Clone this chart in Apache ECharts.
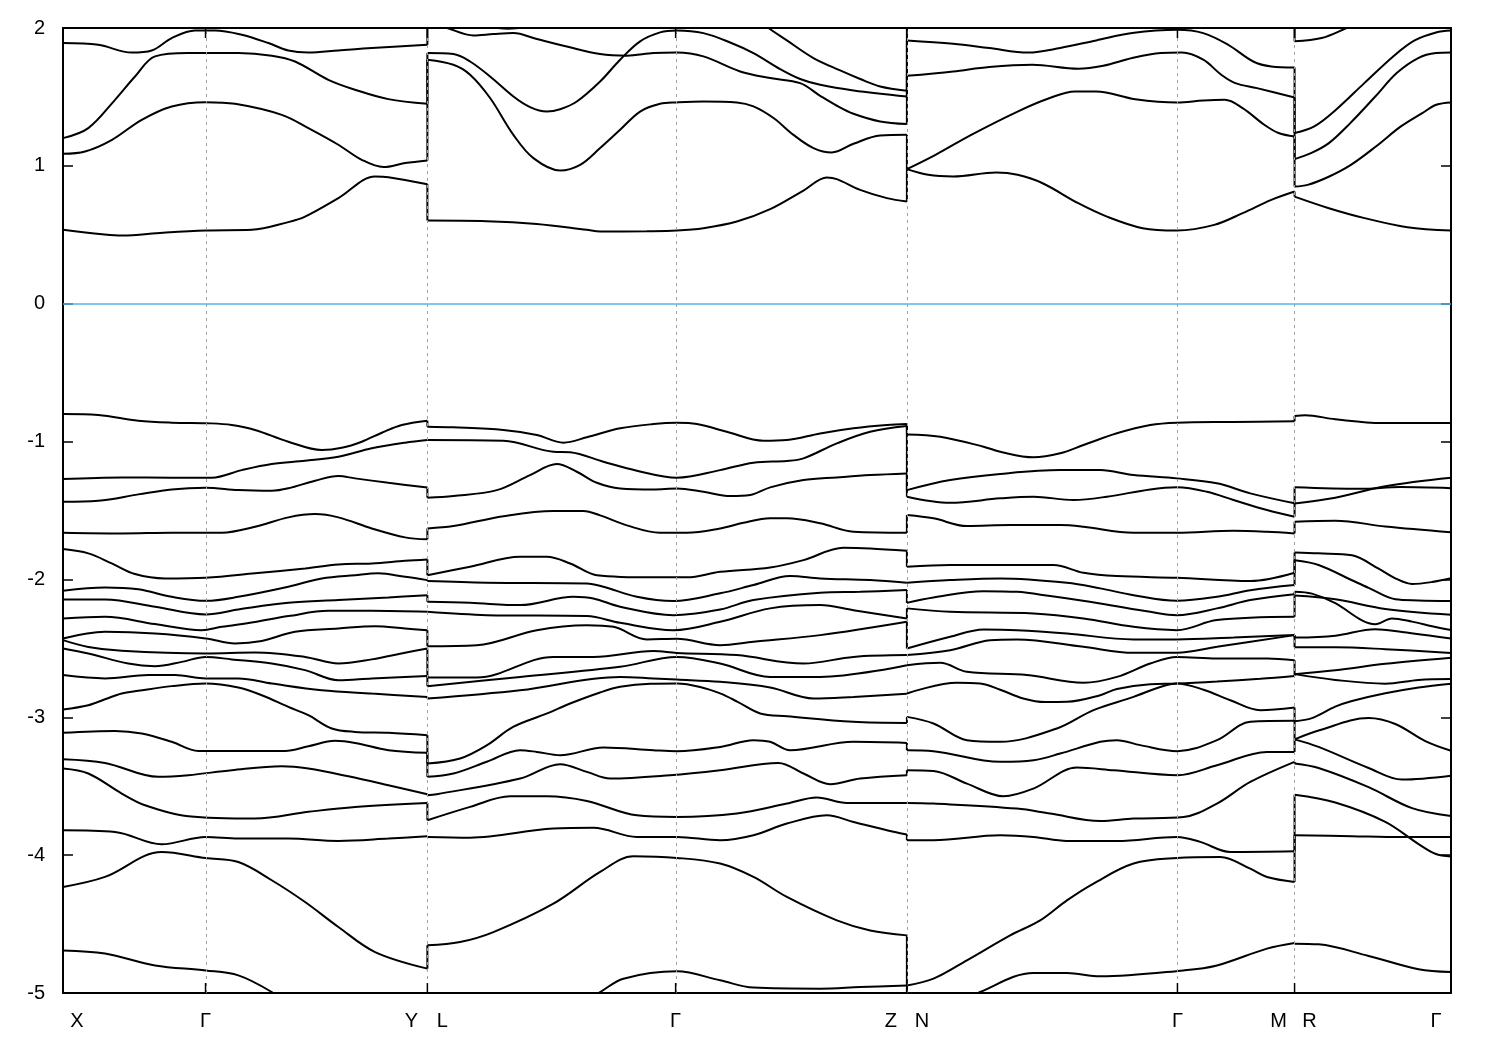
<!DOCTYPE html>
<html><head><meta charset="utf-8">
<script src="https://cdn.jsdelivr.net/npm/echarts@6/dist/echarts.min.js"></script>
<style>html,body{margin:0;padding:0;background:#fff}#c{width:1500px;height:1050px}</style>
</head><body><div id="c"></div>
<script>
// k-path positions of the high-symmetry points (arbitrary units)
const kTicks = [0, 1.425, 3.643, 6.125, 8.437, 11.142, 12.313, 13.877];
const tickLabels = [['X'], ['Γ'], ['Y', 'L'], ['Γ'], ['Z', 'N'], ['Γ'], ['M', 'R'], ['Γ']];
const yTicks = [2, 1, 0, -1, -2, -3, -4, -5];

// ---------- Segment 1 : X - Γ - Y ----------
const seg1Cond = [
  [[0,.536],[.39,.504],[.587,.494],[1.0,.515],[1.427,.531],[1.887,.536],[2.253,.592],[2.42,.632],[2.753,.766],[3.12,.923],[3.253,.918],[3.643,.867]],
  [[0,1.087],[.22,1.104],[.49,1.189],[.787,1.334],[1.087,1.431],[1.427,1.462],[1.72,1.45],[2.187,1.37],[2.453,1.274],[2.753,1.153],[2.987,1.044],[3.203,.991],[3.42,1.02],[3.643,1.039]],
  [[0,1.201],[.253,1.274],[.52,1.479],[.72,1.648],[.92,1.794],[1.253,1.818],[1.753,1.818],[2.087,1.799],[2.32,1.757],[2.653,1.624],[2.92,1.552],[3.253,1.484],[3.643,1.45]],
  [[0,1.891],[.353,1.878],[.687,1.822],[.887,1.837],[1.087,1.927],[1.32,1.982],[1.52,1.982],[1.787,1.951],[2.053,1.891],[2.253,1.837],[2.453,1.822],[2.753,1.837],[3.087,1.855],[3.643,1.878]]
];
const seg1Val = [
  [[0,-.80],[.353,-.807],[.753,-.849],[1.087,-.863],[1.487,-.868],[1.687,-.88],[1.92,-.916],[2.253,-1.001],[2.587,-1.061],[2.787,-1.045],[2.987,-1.001],[3.187,-.936],[3.387,-.88],[3.643,-.849]],
  [[0,-1.272],[.587,-1.26],[1.087,-1.262],[1.487,-1.262],[1.787,-1.207],[2.087,-1.163],[2.42,-1.139],[2.753,-1.11],[3.087,-1.049],[3.42,-1.008],[3.643,-.989]],
  [[0,-1.436],[.353,-1.429],[.753,-1.383],[1.087,-1.347],[1.427,-1.335],[1.753,-1.352],[2.087,-1.357],[2.253,-1.339],[2.52,-1.284],[2.753,-1.25],[2.92,-1.267],[3.253,-1.299],[3.643,-1.333]],
  [[0,-1.661],[.587,-1.666],[1.087,-1.661],[1.587,-1.661],[1.92,-1.618],[2.253,-1.55],[2.52,-1.526],[2.753,-1.55],[3.087,-1.63],[3.42,-1.695],[3.643,-1.709]],
  [[0,-1.78],[.253,-1.811],[.487,-1.884],[.72,-1.961],[1.02,-1.993],[1.427,-1.988],[1.92,-1.956],[2.42,-1.92],[2.753,-1.891],[3.087,-1.884],[3.42,-1.865],[3.643,-1.855]],
  [[0,-2.082],[.42,-2.058],[.753,-2.072],[1.087,-2.126],[1.427,-2.155],[1.753,-2.126],[2.253,-2.053],[2.587,-1.993],[2.92,-1.969],[3.153,-1.956],[3.42,-1.981],[3.643,-2.005]],
  [[0,-2.145],[.42,-2.145],[.92,-2.198],[1.427,-2.254],[1.753,-2.218],[2.253,-2.17],[2.753,-2.15],[3.253,-2.131],[3.643,-2.114]],
  [[0,-2.283],[.42,-2.271],[.92,-2.324],[1.387,-2.368],[1.587,-2.344],[1.92,-2.308],[2.253,-2.266],[2.653,-2.228],[3.087,-2.228],[3.643,-2.235]],
  [[0,-2.428],[.42,-2.38],[.92,-2.392],[1.427,-2.428],[1.72,-2.464],[1.987,-2.446],[2.32,-2.38],[2.753,-2.356],[3.12,-2.339],[3.42,-2.356],[3.643,-2.368]],
  [[0,-2.44],[.253,-2.49],[.587,-2.518],[1.427,-2.537],[1.92,-2.53],[2.42,-2.562],[2.753,-2.61],[3.087,-2.58],[3.42,-2.532],[3.643,-2.501]],
  [[0,-2.501],[.253,-2.537],[.653,-2.61],[.92,-2.629],[1.187,-2.598],[1.427,-2.562],[1.687,-2.58],[2.087,-2.61],[2.42,-2.658],[2.753,-2.731],[3.087,-2.718],[3.643,-2.701]],
  [[0,-2.694],[.42,-2.718],[.853,-2.694],[1.12,-2.694],[1.427,-2.718],[1.753,-2.718],[2.087,-2.755],[2.587,-2.804],[3.087,-2.828],[3.643,-2.852]],
  [[0,-2.943],[.253,-2.912],[.42,-2.869],[.587,-2.827],[.753,-2.808],[1.087,-2.774],[1.427,-2.755],[1.753,-2.784],[1.987,-2.84],[2.253,-2.925],[2.453,-2.985],[2.687,-3.081],[2.92,-3.106],[3.253,-3.113],[3.643,-3.13]],
  [[0,-3.113],[.52,-3.099],[.787,-3.118],[1.087,-3.178],[1.353,-3.244],[2.22,-3.244],[2.453,-3.21],[2.72,-3.171],[2.92,-3.186],[3.253,-3.239],[3.643,-3.258]],
  [[0,-3.304],[.42,-3.331],[.953,-3.432],[1.253,-3.42],[1.687,-3.384],[2.187,-3.355],[2.453,-3.372],[2.853,-3.428],[3.253,-3.493],[3.643,-3.559]],
  [[0,-3.372],[.253,-3.408],[.587,-3.553],[.82,-3.638],[1.253,-3.718],[1.92,-3.735],[2.453,-3.686],[2.92,-3.65],[3.643,-3.621]],
  [[0,-3.82],[.52,-3.832],[.987,-3.921],[1.427,-3.868],[1.753,-3.88],[2.253,-3.88],[2.753,-3.897],[3.253,-3.88],[3.643,-3.863]],
  [[0,-4.231],[.42,-4.158],[.987,-3.977],[1.427,-4.021],[1.753,-4.05],[2.087,-4.182],[2.42,-4.34],[2.753,-4.521],[3.12,-4.703],[3.643,-4.823]],
  [[0,-4.691],[.42,-4.714],[.92,-4.8],[1.427,-4.836],[1.753,-4.872],[2.087,-4.993],[2.4,-5.15],[3.643,-5.4]]
];

// ---------- Segment 2 : L - Γ - Z ----------
const seg2Cond = [
  [[3.643,.603],[4.237,.599],[4.737,.579],[5.237,.536],[5.37,.524],[5.837,.526],[6.137,.531],[6.403,.548],[6.737,.596],[7.07,.686],[7.403,.821],[7.637,.916],[7.737,.904],[7.97,.826],[8.237,.766],[8.437,.741]],
  [[3.643,1.77],[3.903,1.733],[4.07,1.661],[4.27,1.492],[4.503,1.225],[4.703,1.056],[4.97,.966],[5.17,1.007],[5.37,1.129],[5.57,1.262],[5.77,1.394],[5.97,1.45],[6.137,1.46],[6.403,1.467],[6.737,1.46],[6.903,1.431],[7.103,1.347],[7.303,1.225],[7.503,1.129],[7.687,1.097],[7.903,1.16],[8.17,1.22],[8.437,1.225]],
  [[3.643,1.818],[3.903,1.811],[4.07,1.757],[4.27,1.648],[4.503,1.503],[4.67,1.426],[4.837,1.394],[4.97,1.411],[5.137,1.467],[5.37,1.612],[5.57,1.77],[5.77,1.903],[5.97,1.968],[6.137,1.982],[6.403,1.963],[6.67,1.895],[6.903,1.818],[7.17,1.702],[7.37,1.63],[7.57,1.588],[7.903,1.547],[8.437,1.503]],
  [[3.643,2.04],[3.84,2.0],[4.103,1.946],[4.303,1.956],[4.503,1.963],[4.737,1.92],[5.037,1.866],[5.37,1.811],[5.637,1.799],[5.903,1.818],[6.137,1.822],[6.403,1.794],[6.77,1.685],[7.07,1.637],[7.37,1.60],[7.57,1.508],[7.737,1.436],[7.903,1.378],[8.17,1.322],[8.437,1.303]],
  [[3.643,2.5],[6.137,2.4],[6.6,2.2],[6.9,2.08],[7.037,2.007],[7.237,1.91],[7.503,1.782],[7.77,1.692],[7.97,1.63],[8.17,1.576],[8.437,1.545]],
  [[3.643,2.1],[4.1,2.03],[4.45,1.995],[4.8,2.05],[5.3,2.3],[8.437,2.7]]
];
const seg2Val = [
  [[3.643,-.892],[3.903,-.897],[4.403,-.916],[4.737,-.952],[5.003,-1.008],[5.237,-.969],[5.57,-.904],[5.903,-.873],[6.137,-.864],[6.337,-.873],[6.637,-.929],[7.003,-.994],[7.237,-.989],[7.57,-.941],[7.903,-.904],[8.237,-.88],[8.437,-.873]],
  [[3.643,-.989],[4.403,-.994],[4.903,-1.074],[5.07,-1.078],[5.403,-1.146],[5.737,-1.211],[6.137,-1.262],[6.57,-1.207],[6.903,-1.153],[7.237,-1.141],[7.403,-1.122],[7.737,-1.013],[8.07,-.929],[8.437,-.887]],
  [[3.643,-1.407],[3.903,-1.395],[4.337,-1.352],[4.67,-1.243],[4.937,-1.163],[5.137,-1.219],[5.337,-1.299],[5.57,-1.34],[5.903,-1.347],[6.137,-1.34],[6.403,-1.364],[6.67,-1.395],[6.87,-1.388],[7.07,-1.332],[7.403,-1.279],[7.737,-1.26],[8.07,-1.243],[8.437,-1.231]],
  [[3.643,-1.63],[3.903,-1.613],[4.403,-1.541],[4.903,-1.503],[5.203,-1.503],[5.37,-1.535],[5.637,-1.608],[5.97,-1.661],[6.237,-1.661],[6.57,-1.63],[6.803,-1.589],[7.07,-1.557],[7.237,-1.557],[7.57,-1.593],[7.903,-1.654],[8.437,-1.661]],
  [[3.643,-1.969],[4.07,-1.908],[4.57,-1.836],[4.837,-1.836],[5.07,-1.884],[5.337,-1.969],[5.903,-1.985],[6.237,-1.985],[6.57,-1.945],[7.07,-1.913],[7.403,-1.86],[7.803,-1.77],[8.07,-1.775],[8.437,-1.792]],
  [[3.643,-2.012],[4.237,-2.024],[5.237,-2.029],[5.403,-2.053],[5.737,-2.126],[6.103,-2.157],[6.57,-2.101],[6.903,-2.041],[7.27,-1.976],[7.57,-1.993],[8.07,-2.005],[8.437,-2.024]],
  [[3.643,-2.162],[4.07,-2.17],[4.57,-2.186],[5.103,-2.126],[5.303,-2.138],[5.57,-2.198],[6.103,-2.259],[6.57,-2.218],[6.903,-2.15],[7.57,-2.097],[7.97,-2.09],[8.437,-2.077]],
  [[3.643,-2.235],[4.237,-2.259],[5.237,-2.266],[5.57,-2.315],[6.103,-2.368],[6.57,-2.307],[7.07,-2.21],[7.57,-2.186],[7.903,-2.223],[8.437,-2.283]],
  [[3.643,-2.484],[4.137,-2.477],[4.737,-2.368],[5.237,-2.332],[5.503,-2.344],[5.837,-2.435],[6.137,-2.431],[6.57,-2.477],[6.903,-2.452],[7.57,-2.404],[8.437,-2.307]],
  [[3.643,-2.711],[4.137,-2.711],[4.903,-2.562],[5.303,-2.562],[5.903,-2.519],[6.137,-2.533],[6.737,-2.549],[7.403,-2.61],[7.903,-2.562],[8.437,-2.549]],
  [[3.643,-2.774],[4.57,-2.707],[5.57,-2.634],[6.137,-2.562],[6.57,-2.61],[7.07,-2.707],[7.57,-2.707],[8.437,-2.622]],
  [[3.643,-2.864],[4.57,-2.804],[5.57,-2.707],[5.903,-2.718],[6.137,-2.726],[6.57,-2.743],[7.07,-2.784],[7.503,-2.864],[7.903,-2.852],[8.437,-2.83]],
  [[3.643,-3.336],[3.97,-3.299],[4.24,-3.202],[4.5,-3.07],[4.84,-2.972],[5.07,-2.90],[5.37,-2.82],[5.57,-2.779],[5.87,-2.757],[6.14,-2.755],[6.37,-2.78],[6.57,-2.827],[6.74,-2.886],[6.97,-2.972],[7.24,-2.992],[7.9,-3.033],[8.437,-3.041]],
  [[3.643,-3.432],[3.903,-3.408],[4.237,-3.323],[4.57,-3.239],[4.737,-3.251],[4.97,-3.275],[5.403,-3.219],[5.903,-3.239],[6.137,-3.246],[6.57,-3.215],[6.903,-3.166],[7.07,-3.178],[7.27,-3.239],[7.903,-3.178],[8.437,-3.186]],
  [[3.643,-3.565],[3.737,-3.558],[4.57,-3.444],[4.97,-3.34],[5.237,-3.396],[5.47,-3.444],[6.07,-3.42],[6.57,-3.384],[7.153,-3.331],[7.403,-3.408],[7.67,-3.485],[7.97,-3.444],[8.437,-3.42]],
  [[3.643,-3.747],[4.07,-3.65],[4.47,-3.573],[4.837,-3.573],[5.237,-3.607],[5.737,-3.711],[6.137,-3.723],[6.737,-3.698],[7.237,-3.626],[7.537,-3.582],[7.837,-3.621],[8.437,-3.621]],
  [[3.643,-3.868],[4.07,-3.873],[4.903,-3.807],[5.303,-3.802],[5.737,-3.868],[6.137,-3.868],[6.57,-3.892],[6.903,-3.856],[7.237,-3.771],[7.637,-3.711],[7.903,-3.759],[8.303,-3.83],[8.437,-3.85]],
  [[3.643,-4.654],[3.97,-4.63],[4.303,-4.558],[4.903,-4.352],[5.37,-4.122],[5.703,-4.008],[6.137,-4.02],[6.57,-4.061],[6.903,-4.158],[7.237,-4.303],[7.737,-4.473],[8.07,-4.546],[8.437,-4.582]],
  [[3.643,-5.5],[4.6,-5.25],[5.1,-5.1],[5.37,-4.993],[5.603,-4.896],[6.137,-4.843],[6.57,-4.908],[6.903,-4.961],[7.57,-4.969],[7.97,-4.957],[8.437,-4.945]]
];

// ---------- Segment 3 : N - Γ - M ----------
const seg3Cond = [
  [[8.437,.976],[8.65,.935],[8.9,.923],[9.33,.952],[9.544,.935],[9.794,.874],[10.15,.729],[10.437,.632],[10.794,.548],[11.14,.531],[11.51,.572],[11.794,.657],[12.08,.753],[12.313,.814]],
  [[8.437,.976],[8.723,1.08],[9.08,1.225],[9.544,1.394],[9.866,1.492],[10.116,1.54],[10.33,1.54],[10.72,1.484],[11.14,1.46],[11.4,1.474],[11.616,1.479],[11.794,1.419],[12.01,1.298],[12.153,1.238],[12.313,1.213]],
  [[8.437,1.653],[8.9,1.685],[9.26,1.717],[9.69,1.733],[10.15,1.704],[10.4,1.726],[10.69,1.782],[10.976,1.818],[11.187,1.822],[11.4,1.77],[11.58,1.661],[11.72,1.60],[11.937,1.564],[12.313,1.496]],
  [[8.437,1.91],[8.9,1.886],[9.26,1.855],[9.65,1.822],[9.97,1.855],[10.33,1.91],[10.69,1.963],[11.14,1.987],[11.4,1.963],[11.65,1.878],[11.9,1.757],[12.08,1.721],[12.313,1.714]],
  [[8.437,2.2],[10.3,2.15],[12.313,2.1]]
];
const seg3Val = [
  [[8.437,-.948],[8.77,-.965],[9.203,-1.037],[9.37,-1.074],[9.703,-1.114],[9.97,-1.085],[10.203,-1.025],[10.537,-.94],[10.87,-.88],[11.137,-.863],[11.703,-.858],[12.313,-.853]],
  [[8.437,-1.352],[8.87,-1.279],[9.37,-1.235],[9.97,-1.207],[10.37,-1.207],[10.703,-1.243],[11.137,-1.267],[11.537,-1.303],[11.87,-1.376],[12.313,-1.448]],
  [[8.437,-1.40],[8.87,-1.444],[9.37,-1.412],[9.703,-1.40],[10.103,-1.424],[10.437,-1.40],[10.87,-1.347],[11.137,-1.332],[11.437,-1.364],[11.703,-1.424],[12.037,-1.497],[12.313,-1.545]],
  [[8.437,-1.533],[8.703,-1.557],[9.037,-1.613],[9.47,-1.606],[9.97,-1.606],[10.203,-1.618],[10.703,-1.661],[11.137,-1.661],[11.703,-1.647],[12.037,-1.654],[12.313,-1.666]],
  [[8.437,-1.908],[8.87,-1.896],[9.537,-1.896],[9.903,-1.896],[10.203,-1.952],[10.537,-1.976],[11.137,-1.988],[11.87,-2.012],[12.313,-1.952]],
  [[8.437,-2.024],[8.87,-2.005],[9.37,-1.993],[10.037,-2.024],[10.37,-2.065],[10.703,-2.114],[11.137,-2.155],[11.537,-2.126],[11.87,-2.078],[12.313,-2.041]],
  [[8.437,-2.17],[8.703,-2.131],[9.203,-2.085],[9.537,-2.09],[9.87,-2.121],[10.37,-2.174],[10.87,-2.235],[11.137,-2.259],[11.537,-2.21],[11.87,-2.15],[12.313,-2.107]],
  [[8.437,-2.21],[8.87,-2.235],[9.703,-2.247],[10.203,-2.283],[10.703,-2.344],[11.137,-2.368],[11.537,-2.295],[12.313,-2.271]],
  [[8.437,-2.501],[8.87,-2.416],[9.203,-2.363],[9.537,-2.368],[10.037,-2.392],[10.703,-2.435],[11.137,-2.435],[11.703,-2.421],[12.313,-2.404]],
  [[8.437,-2.549],[8.87,-2.513],[9.27,-2.441],[9.537,-2.435],[10.203,-2.489],[10.703,-2.532],[11.137,-2.532],[11.537,-2.489],[12.313,-2.404]],
  [[8.437,-2.622],[8.77,-2.605],[9.037,-2.67],[9.637,-2.694],[10.203,-2.75],[10.537,-2.707],[10.87,-2.61],[11.137,-2.562],[11.537,-2.573],[12.037,-2.573],[12.313,-2.586]],
  [[8.437,-2.827],[8.937,-2.75],[9.17,-2.755],[9.37,-2.80],[9.6,-2.864],[9.82,-2.89],[10.037,-2.888],[10.37,-2.84],[10.537,-2.795],[10.87,-2.76],[11.137,-2.755],[11.537,-2.74],[11.97,-2.72],[12.313,-2.70]],
  [[8.437,-2.997],[8.703,-3.045],[9.037,-3.166],[9.37,-3.178],[9.937,-3.081],[10.303,-2.948],[10.703,-2.852],[10.97,-2.78],[11.137,-2.755],[11.403,-2.80],[11.67,-2.876],[11.97,-2.949],[12.313,-2.929]],
  [[8.437,-3.239],[8.703,-3.246],[9.37,-3.323],[9.703,-3.312],[9.97,-3.263],[10.37,-3.178],[10.537,-3.166],[10.77,-3.202],[11.143,-3.246],[11.537,-3.166],[11.87,-3.033],[12.313,-3.026]],
  [[8.437,-3.384],[8.703,-3.389],[9.037,-3.481],[9.403,-3.573],[9.703,-3.517],[10.137,-3.365],[10.503,-3.384],[11.143,-3.42],[11.537,-3.348],[12.037,-3.251],[12.313,-3.251]],
  [[8.437,-3.621],[8.703,-3.626],[9.537,-3.662],[9.87,-3.698],[10.37,-3.752],[10.703,-3.735],[11.203,-3.723],[11.537,-3.626],[11.87,-3.469],[12.313,-3.323]],
  [[8.437,-3.892],[8.703,-3.892],[9.37,-3.856],[9.703,-3.868],[10.037,-3.897],[10.537,-3.897],[11.137,-3.868],[11.37,-3.904],[11.67,-3.977],[12.313,-3.972]],
  [[8.437,-4.945],[8.703,-4.896],[9.037,-4.763],[9.47,-4.582],[9.77,-4.473],[10.037,-4.328],[10.303,-4.206],[10.703,-4.061],[11.137,-4.021],[11.57,-4.013],[11.87,-4.098],[12.037,-4.158],[12.313,-4.194]],
  [[8.437,-5.25],[8.9,-5.1],[9.17,-4.993],[9.703,-4.855],[10.037,-4.855],[10.37,-4.879],[11.203,-4.836],[11.537,-4.80],[12.037,-4.678],[12.313,-4.637]]
];

// ---------- Segment 4 : R - Γ ----------
const seg4Cond = [
  [[12.313,.777],[12.656,.693],[13.013,.621],[13.44,.555],[13.877,.531]],
  [[12.313,.85],[12.444,.862],[12.66,.923],[12.876,1.007],[13.126,1.14],[13.376,1.286],[13.59,1.383],[13.73,1.443],[13.877,1.46]],
  [[12.313,1.049],[12.477,1.092],[12.656,1.165],[12.87,1.31],[13.12,1.503],[13.334,1.673],[13.549,1.782],[13.727,1.818],[13.877,1.822]],
  [[12.313,1.238],[12.51,1.286],[12.727,1.407],[13.01,1.60],[13.299,1.794],[13.513,1.91],[13.727,1.968],[13.877,1.982]],
  [[12.313,1.903],[12.583,1.927],[12.833,2.0],[13.3,2.15],[13.877,2.3]]
];
const seg4Val = [
  [[12.313,-.814],[12.42,-.809],[12.72,-.838],[13.187,-.865],[13.877,-.865]],
  [[12.313,-1.332],[12.97,-1.343],[13.37,-1.33],[13.877,-1.338]],
  [[12.313,-1.449],[12.72,-1.407],[13.22,-1.324],[13.877,-1.263]],
  [[12.313,-1.582],[12.72,-1.574],[13.22,-1.616],[13.877,-1.658]],
  [[12.313,-1.805],[12.553,-1.811],[12.887,-1.825],[13.153,-1.922],[13.32,-1.992],[13.487,-2.033],[13.687,-2.019],[13.877,-1.992]],
  [[12.313,-1.861],[12.553,-1.895],[12.887,-2.006],[13.053,-2.061],[13.32,-2.144],[13.553,-2.152],[13.877,-2.157]],
  [[12.313,-2.089],[12.487,-2.103],[12.72,-2.172],[12.987,-2.297],[13.12,-2.325],[13.287,-2.283],[13.487,-2.306],[13.687,-2.339],[13.877,-2.367]],
  [[12.313,-2.117],[12.72,-2.144],[13.22,-2.214],[13.877,-2.256]],
  [[12.313,-2.422],[12.72,-2.408],[13.12,-2.361],[13.387,-2.381],[13.877,-2.428]],
  [[12.313,-2.492],[12.72,-2.492],[13.22,-2.506],[13.877,-2.534]],
  [[12.313,-2.687],[12.72,-2.659],[13.22,-2.612],[13.877,-2.568]],
  [[12.313,-2.687],[12.72,-2.729],[13.22,-2.756],[13.553,-2.729],[13.877,-2.723]],
  [[12.313,-3.029],[12.487,-3.006],[12.72,-2.923],[12.887,-2.882],[13.22,-2.826],[13.553,-2.784],[13.877,-2.756]],
  [[12.313,-3.16],[12.553,-3.096],[13.053,-3.006],[13.32,-3.049],[13.62,-3.173],[13.877,-3.243]],
  [[12.313,-3.16],[12.553,-3.215],[13.053,-3.368],[13.387,-3.452],[13.877,-3.424]],
  [[12.313,-3.335],[12.553,-3.368],[13.053,-3.507],[13.487,-3.659],[13.877,-3.716]],
  [[12.313,-3.562],[12.72,-3.618],[13.22,-3.758],[13.553,-3.92],[13.72,-3.99],[13.877,-4.01]],
  [[12.313,-3.855],[12.887,-3.863],[13.387,-3.869],[13.877,-3.869]],
  [[12.313,-4.642],[12.553,-4.647],[13.053,-4.731],[13.553,-4.828],[13.877,-4.848]]
];

const segments = [
  {cond: seg1Cond, val: seg1Val},
  {cond: seg2Cond, val: seg2Val},
  {cond: seg3Cond, val: seg3Val},
  {cond: seg4Cond, val: seg4Val}
];
const boundaryIdx = [2, 4, 6]; // kTicks index of each segment break

const BAND = {color: '#000', width: 2};
const FONT = '"Liberation Sans", Arial, sans-serif';
const series = [];

// reference lines (dashed verticals, Fermi level)
series.push({
  type: 'line', data: [], z: 1, silent: true,
  markLine: {
    silent: true, symbol: ['none', 'none'], label: {show: false}, animation: false,
    data: kTicks.slice(1, -1).map(k => ({xAxis: k, lineStyle: {color: '#a0a0a0', width: 1, type: [3, 4]}}))
      .concat([{yAxis: 0, lineStyle: {color: '#56b4e9', width: 1.6, type: 'solid'}}])
  }
});

// band curves
segments.forEach(seg => {
  seg.cond.concat(seg.val).forEach(curve => {
    series.push({
      type: 'line', data: curve, showSymbol: false, symbol: 'none', smooth: 0.35,
      lineStyle: {color: BAND.color, width: BAND.width}, z: 3, silent: true, clip: true
    });
  });
});

// vertical jumps where the path breaks: pair bands (ordered by energy) across the break
boundaryIdx.forEach((ti, b) => {
  const x = kTicks[ti];
  const left = segments[b], right = segments[b + 1];
  const endsC = left.cond.map(c => c[c.length - 1][1]).sort((p, q) => p - q);
  const startsC = right.cond.map(c => c[0][1]).sort((p, q) => p - q);
  const endsV = left.val.map(c => c[c.length - 1][1]).sort((p, q) => q - p);
  const startsV = right.val.map(c => c[0][1]).sort((p, q) => q - p);
  const pairs = [];
  for (let i = 0; i < Math.min(endsC.length, startsC.length); i++) pairs.push([endsC[i], startsC[i]]);
  for (let i = 0; i < Math.min(endsV.length, startsV.length); i++) pairs.push([endsV[i], startsV[i]]);
  pairs.forEach(p => {
    if (Math.abs(p[0] - p[1]) < 1e-4) return;
    series.push({
      type: 'line', data: [[x, p[0]], [x, p[1]]], showSymbol: false, symbol: 'none',
      lineStyle: {color: BAND.color, width: BAND.width}, z: 3, silent: true, clip: true
    });
  });
});

// k-point ticks and labels
series.push({
  type: 'custom', z: 5, silent: true, clip: false,
  data: kTicks.map((k, i) => [k, -5, i]),
  renderItem: function (params, api) {
    const i = api.value(2);
    const bot = api.coord([api.value(0), -5]);
    const top = api.coord([api.value(0), 2]);
    const children = [
      {type: 'line', shape: {x1: bot[0], y1: bot[1], x2: bot[0], y2: bot[1] - 10}, style: {stroke: '#000', lineWidth: 1.5}},
      {type: 'line', shape: {x1: top[0], y1: top[1], x2: top[0], y2: top[1] + 10}, style: {stroke: '#000', lineWidth: 1.5}}
    ];
    const parts = tickLabels[i];
    let offs;
    if (parts.length === 2) offs = [-16, 15];
    else if (i === 0) offs = [14];
    else if (i === kTicks.length - 1) offs = [-15];
    else offs = [0];
    parts.forEach((s, j) => children.push({
      type: 'text', x: bot[0] + offs[j], y: bot[1] + 28,
      style: {text: s, fill: '#000', font: '20px ' + FONT, align: 'center', verticalAlign: 'middle'}
    }));
    return {type: 'group', children: children};
  }
});

const chart = echarts.init(document.getElementById('c'), null, {renderer: 'canvas'});
chart.setOption({
  animation: false,
  backgroundColor: '#fff',
  grid: {left: 63, right: 49, top: 28, bottom: 57, containLabel: false},
  xAxis: [
    {type: 'value', min: kTicks[0], max: kTicks[kTicks.length - 1], position: 'bottom',
      axisLine: {show: true, onZero: false, lineStyle: {color: '#000', width: 2}},
      axisTick: {show: false}, axisLabel: {show: false}, splitLine: {show: false}},
    {type: 'value', min: kTicks[0], max: kTicks[kTicks.length - 1], position: 'top',
      axisLine: {show: true, onZero: false, lineStyle: {color: '#000', width: 2}},
      axisTick: {show: false}, axisLabel: {show: false}, splitLine: {show: false}}
  ],
  yAxis: [
    {type: 'value', min: yTicks[yTicks.length - 1], max: yTicks[0], interval: 1, position: 'left',
      axisLine: {show: true, onZero: false, lineStyle: {color: '#000', width: 2}},
      axisTick: {show: true, inside: true, length: 10, lineStyle: {color: '#000', width: 1.5}},
      axisLabel: {show: true, margin: 18, color: '#000', fontSize: 20, fontFamily: FONT},
      splitLine: {show: false}},
    {type: 'value', min: yTicks[yTicks.length - 1], max: yTicks[0], interval: 1, position: 'right',
      axisLine: {show: true, onZero: false, lineStyle: {color: '#000', width: 2}},
      axisTick: {show: true, inside: true, length: 10, lineStyle: {color: '#000', width: 1.5}},
      axisLabel: {show: false}, splitLine: {show: false}}
  ],
  series: series
});
</script>
</body></html>
